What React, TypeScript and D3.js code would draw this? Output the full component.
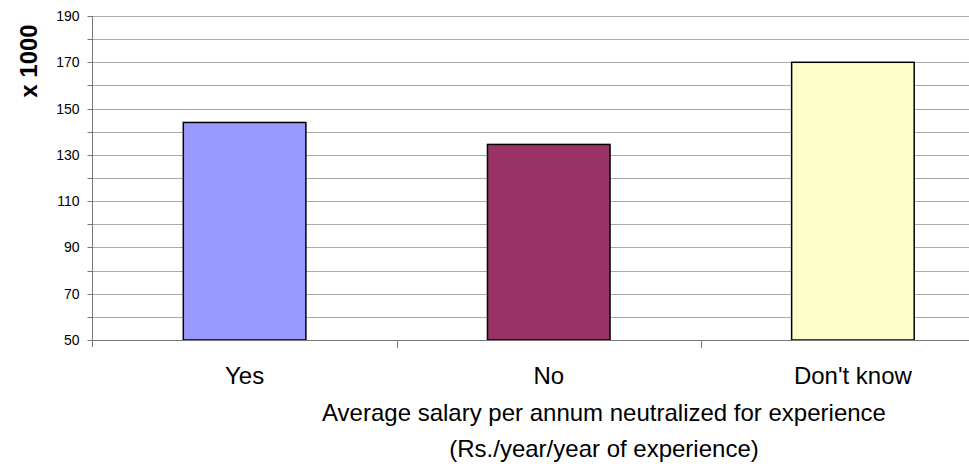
import React from "react";
import * as d3 from "d3";

const categories = ["Yes", "No", "Don't know"];
const values = [144, 134.5, 170];
const colors = ["#9999FF", "#993366", "#FFFFCC"];
const yTickLabels = [50, 70, 90, 110, 130, 150, 170, 190];
const gridValues = [60, 70, 80, 90, 100, 110, 120, 130, 140, 150, 160, 170, 180, 190];
const xTitleLines = [
  "Average salary per annum neutralized for experience",
  "(Rs./year/year of experience)",
];
const yTitle = "x 1000";

export default function App() {
  const W = 969;
  const H = 470;
  const left = 92.5;
  const right = 1005;
  const top = 16;
  const bottom = 340;

  const y = d3.scaleLinear().domain([50, 190]).range([bottom, top]);
  const x = d3
    .scaleBand<string>()
    .domain(categories)
    .range([left, right])
    .paddingInner(0)
    .paddingOuter(0);
  const bw = x.bandwidth() * 0.403;
  const font = "Arial, 'Liberation Sans', sans-serif";
  const allTicks = d3.range(50, 191, 10);

  return (
    <svg
      width={W}
      height={H}
      style={{ position: "absolute", left: 0, top: 0, background: "#fff" }}
      fontFamily={font}
    >
      {gridValues.map((v) => (
        <line
          key={"g" + v}
          x1={left}
          x2={right}
          y1={Math.round(y(v)) + 0.5}
          y2={Math.round(y(v)) + 0.5}
          stroke="#ababab"
          strokeWidth={1}
        />
      ))}
      {categories.map((c, i) => {
        const cx = (x(c) as number) + x.bandwidth() / 2;
        return (
          <rect
            key={c}
            x={cx - bw / 2}
            y={y(values[i])}
            width={bw}
            height={y(50) - y(values[i])}
            fill={colors[i]}
            stroke="#000"
            strokeWidth={1.5}
          />
        );
      })}
      <line x1={left} x2={left} y1={top} y2={bottom + 7} stroke="#777" strokeWidth={1} />
      {allTicks.map((v) => (
        <line
          key={"t" + v}
          x1={left - 5}
          x2={left}
          y1={Math.round(y(v)) + 0.5}
          y2={Math.round(y(v)) + 0.5}
          stroke="#777"
          strokeWidth={1}
        />
      ))}
      {yTickLabels.map((v) => (
        <text
          key={"l" + v}
          x={79.5}
          y={y(v)}
          dy="0.36em"
          textAnchor="end"
          fontSize={14}
          fill="#000"
        >
          {v}
        </text>
      ))}
      <line x1={left} x2={right} y1={bottom + 0.5} y2={bottom + 0.5} stroke="#777" strokeWidth={1} />
      {categories.slice(1).map((c) => (
        <line
          key={"xt" + c}
          x1={Math.round(x(c) as number) + 0.5}
          x2={Math.round(x(c) as number) + 0.5}
          y1={bottom}
          y2={bottom + 8}
          stroke="#777"
          strokeWidth={1}
        />
      ))}
      {categories.map((c) => (
        <text
          key={"cl" + c}
          x={(x(c) as number) + x.bandwidth() / 2}
          y={384}
          textAnchor="middle"
          fontSize={24}
          fill="#000"
        >
          {c}
        </text>
      ))}
      {xTitleLines.map((t, i) => (
        <text
          key={"xt" + i}
          x={604}
          y={421 + i * 36}
          textAnchor="middle"
          fontSize={24}
          fill="#000"
        >
          {t}
        </text>
      ))}
      <text
        transform={`translate(37,61) rotate(-90)`}
        textAnchor="middle"
        fontSize={24}
        fontWeight="bold"
        fill="#000"
      >
        {yTitle}
      </text>
    </svg>
  );
}
